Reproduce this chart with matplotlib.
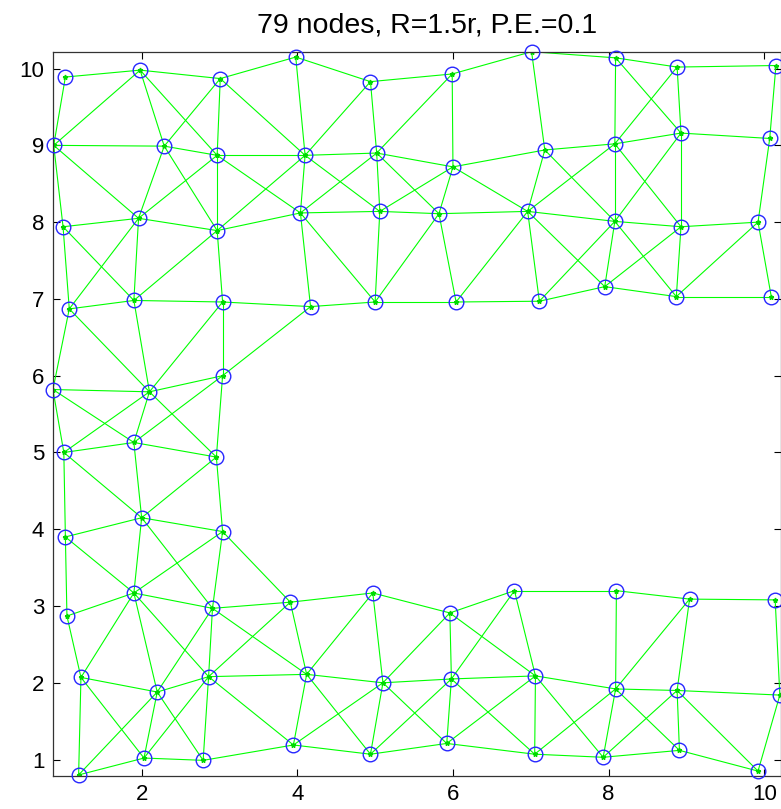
import matplotlib
matplotlib.use('Agg')
import matplotlib.pyplot as plt

# node positions (node k is at index k-1)
node_x = [1.02, 1.98, 3.01, 3.98, 4.94, 5.99, 7.01, 8.09, 8.88, 10.15,
          0.87, 2.29, 2.97, 4.10, 5.02, 6.00, 7.18, 8.08, 8.93, 10.07,
          0.99, 1.96, 2.97, 4.04, 5.06, 5.82, 6.96, 8.08, 8.93, 9.92,
          1.07, 1.90, 3.04, 4.17, 5.00, 6.04, 7.11, 7.95, 8.87, 10.09,
          0.86, 2.10, 3.04, 1.00, 1.90, 2.96, 1.02, 2.00, 3.04,
          1.90, 1.04, 2.91, 3.91, 1.22, 2.20, 2.86, 1.19, 2.03, 2.79,
          3.95, 4.12, 4.97, 5.10, 4.94, 5.96, 5.98, 5.92, 6.79, 7.06,
          7.05, 8.10, 8.09, 7.93, 9.04, 8.88, 8.91, 10.14, 10.20, 9.92]
node_y = [9.89, 9.98, 9.87, 10.15, 9.83, 9.93, 10.22, 10.14, 10.02, 10.04,
          9.00, 8.99, 8.87, 8.87, 8.90, 8.72, 8.94, 9.02, 9.16, 9.09,
          7.94, 8.05, 7.89, 8.12, 8.14, 8.11, 8.14, 8.01, 7.94, 8.00,
          6.87, 6.98, 6.96, 6.90, 6.96, 6.96, 6.97, 7.16, 7.03, 7.03,
          5.82, 5.79, 6.00, 5.00, 5.13, 4.94, 3.90, 4.15, 3.97,
          3.17, 2.87, 2.97, 3.05, 2.07, 1.88, 2.08, 0.80, 1.02, 0.99,
          1.19, 2.11, 3.17, 2.00, 1.07, 2.91, 2.05, 1.21, 3.20, 2.09,
          1.07, 3.20, 1.92, 1.03, 3.09, 1.90, 1.12, 3.08, 1.84, 0.85]

# links between nodes (1-based node numbers)
edges = [
    (1, 2), (1, 11), (2, 3), (2, 11), (2, 12), (2, 13), (3, 4), (3, 12), (3, 13), (3, 14),
    (4, 5), (4, 14), (5, 6), (5, 14), (5, 15), (6, 7), (6, 15), (6, 16), (7, 8), (7, 17),
    (8, 9), (8, 18), (8, 19), (9, 10), (9, 18), (9, 19), (10, 20), (11, 12), (11, 21), (11, 22),
    (12, 13), (12, 22), (12, 23), (13, 14), (13, 22), (13, 23), (13, 24), (14, 15), (14, 23), (14, 24),
    (14, 25), (15, 16), (15, 24), (15, 25), (15, 26), (16, 17), (16, 25), (16, 26), (16, 27), (17, 18),
    (17, 27), (17, 28), (18, 19), (18, 27), (18, 28), (18, 29), (19, 20), (19, 28), (19, 29), (20, 30),
    (21, 22), (21, 31), (21, 32), (22, 23), (22, 31), (22, 32), (23, 24), (23, 32), (23, 33), (24, 25),
    (24, 34), (24, 35), (25, 26), (25, 35), (26, 27), (26, 35), (26, 36), (27, 28), (27, 36), (27, 37),
    (27, 38), (28, 29), (28, 37), (28, 38), (28, 39), (29, 30), (29, 38), (29, 39), (30, 39), (30, 40),
    (31, 32), (31, 41), (31, 42), (32, 33), (32, 42), (33, 34), (33, 42), (33, 43), (34, 35), (34, 43),
    (35, 36), (36, 37), (37, 38), (38, 39), (39, 40), (41, 42), (41, 44), (41, 45), (42, 43), (42, 44),
    (42, 45), (42, 46), (43, 45), (43, 46), (44, 45), (44, 47), (44, 48), (45, 46), (45, 48), (46, 48),
    (46, 49), (47, 48), (47, 50), (47, 51), (48, 49), (48, 50), (48, 52), (49, 50), (49, 52), (49, 53),
    (50, 51), (50, 52), (50, 54), (50, 55), (50, 56), (51, 54), (52, 53), (52, 55), (52, 56), (52, 61),
    (53, 56), (53, 61), (53, 62), (54, 55), (54, 57), (54, 58), (55, 56), (55, 57), (55, 58), (55, 59),
    (56, 58), (56, 59), (56, 60), (56, 61), (57, 58), (58, 59), (59, 60), (60, 61), (60, 63), (60, 64),
    (61, 62), (61, 63), (61, 64), (62, 63), (62, 65), (63, 64), (63, 65), (63, 66), (63, 67), (64, 66),
    (64, 67), (65, 66), (65, 68), (65, 69), (66, 67), (66, 68), (66, 69), (66, 70), (67, 69), (67, 70),
    (68, 69), (68, 71), (69, 70), (69, 72), (69, 73), (70, 72), (70, 73), (71, 72), (71, 74), (72, 73),
    (72, 74), (72, 75), (72, 76), (73, 75), (73, 76), (74, 75), (74, 77), (75, 76), (75, 78), (75, 79),
    (76, 79), (77, 78), (78, 79),
]

title = '79 nodes, R=1.5r, P.E.=0.1'

plt.rcParams['font.family'] = ['Liberation Sans', 'DejaVu Sans']
fig = plt.figure(figsize=(7.81, 8.09), dpi=100)
ax = fig.add_axes([52.7 / 781, 33.3 / 809, (781 - 52.7) / 781, (775.7 - 51.7) / 809])

for a, b in edges:
    ax.plot([node_x[a - 1], node_x[b - 1]], [node_y[a - 1], node_y[b - 1]],
            color=(0, 1, 0), lw=0.8, zorder=2)
ax.plot(node_x, node_y, '*', ms=3.5, color=(0, 0.85, 0), zorder=2)
ax.plot(node_x, node_y, 'o', ms=10.5, mfc='none', mec=(0.15, 0.15, 1), mew=1.0,
        zorder=3, clip_on=False)

ax.set_xlim(0.857, 10.215)
ax.set_ylim(0.79, 10.22)
ax.set_xticks([2, 4, 6, 8, 10])
ax.set_yticks(range(1, 11))
ax.tick_params(direction='in', length=5, width=0.8, top=True, right=True, labelsize=16, pad=6)
for s in ax.spines.values():
    s.set_linewidth(0.9)
    s.set_color('#333333')
ax.set_title(title, fontsize=20.5, pad=14, x=0.514)

fig.savefig('out.png', dpi=100)
